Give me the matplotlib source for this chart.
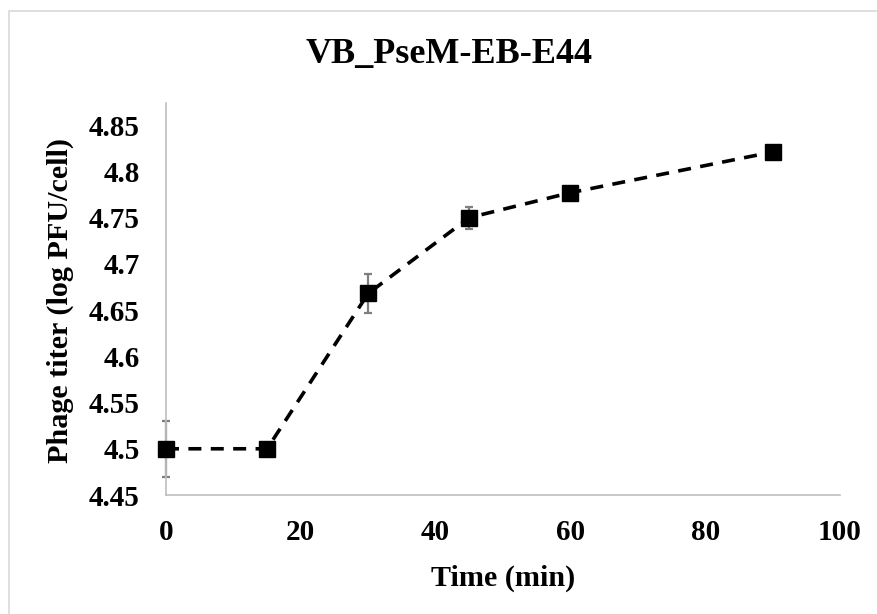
import matplotlib
matplotlib.use("Agg")
import matplotlib.pyplot as plt
from matplotlib.patches import Rectangle

time_min = [0, 15, 30, 45, 60, 90]
titer = [4.500, 4.500, 4.668, 4.750, 4.777, 4.821]
titer_err = [0.030, 0.006, 0.021, 0.012, 0.004, 0.006]

x_ticks = [0, 20, 40, 60, 80, 100]
y_ticks = [4.45, 4.5, 4.55, 4.6, 4.65, 4.7, 4.75, 4.8, 4.85]
y_tick_labels = ["4.45", "4.5", "4.55", "4.6", "4.65", "4.7", "4.75", "4.8", "4.85"]

plt.rcParams['font.family'] = ['Liberation Serif', 'DejaVu Serif']
plt.rcParams['font.weight'] = 'bold'

fig = plt.figure(figsize=(8.78, 6.14), dpi=100)
# light grey chart-area border (Excel style)
fig.patches.append(Rectangle((8.5 / 878, -0.05), 1.2, 1 - 10.5 / 614 + 0.05,
                             transform=fig.transFigure, fill=False,
                             edgecolor='#d9d9d9', lw=1.2))

ax = fig.add_axes([166 / 878, 1 - 495 / 614, (840 - 166) / 878, (495 - 103) / 614])

eb = ax.errorbar(time_min, titer, yerr=titer_err, fmt='none', ecolor='#7f7f7f',
                 elinewidth=1.6, capsize=3, capthick=1.6, zorder=2)
for art in eb.lines[1] + eb.lines[2]:
    art.set_clip_on(False)
ax.plot(time_min, titer, color='black', lw=2.6, linestyle=(0, (3.6, 2.6)),
        marker='s', markersize=11.5, markerfacecolor='black',
        markeredgecolor='black', zorder=3, clip_on=False)

ax.set_xlim(0, 100)
ax.set_ylim(4.45, 4.874)
ax.set_xticks(x_ticks)
ax.set_yticks(y_ticks)
ax.set_yticklabels(y_tick_labels)
ax.tick_params(length=0, labelsize=21)
ax.tick_params(axis='y', pad=19)
ax.tick_params(axis='x', pad=17)

for side in ['top', 'right']:
    ax.spines[side].set_visible(False)
for side in ['left', 'bottom']:
    ax.spines[side].set_color('#bfbfbf')
    ax.spines[side].set_linewidth(1.2)

ax.set_xlabel("Time (min)", fontsize=21.7, fontweight='bold')
ax.set_ylabel("Phage titer (log PFU/cell)", fontsize=21.7, fontweight='bold')
ax.xaxis.set_label_coords(0.5, -0.179)
ax.yaxis.set_label_coords(-0.136, 0.497)
fig.text(449 / 878, 1 - 55 / 614, "VB_PseM-EB-E44",
         fontsize=26, fontweight='bold', ha='center', va='center')

fig.savefig("out.png", dpi=100)
